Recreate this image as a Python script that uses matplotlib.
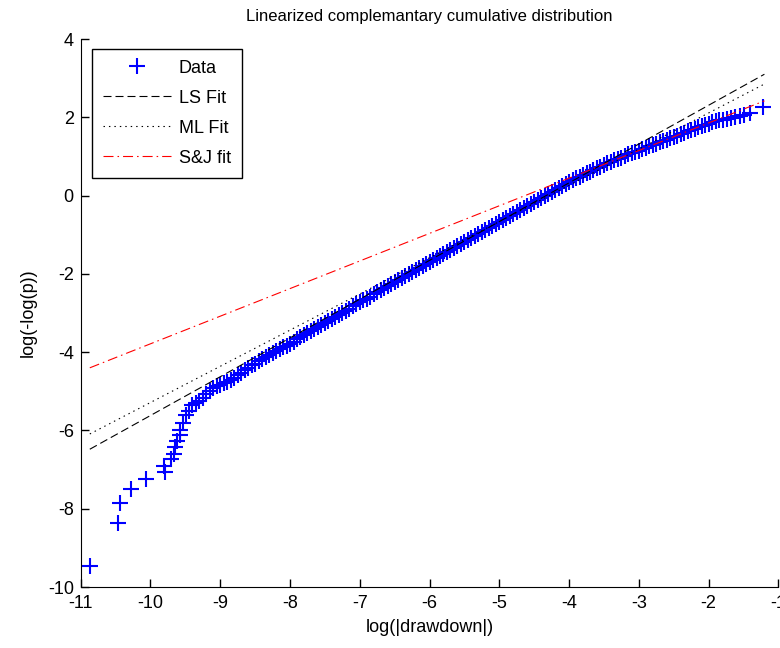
import matplotlib
matplotlib.use("Agg")
import matplotlib.pyplot as plt

plt.rcParams['font.family'] = ['Liberation Sans', 'DejaVu Sans']
plt.rcParams['axes.unicode_minus'] = False

# data points (log|drawdown|, log(-log p))
data_x = [-10.87, -10.46, -10.43, -10.28, -10.06, -9.79, -9.80, -9.71, -9.67, -9.65,
          -9.62, -9.58, -9.57, -9.53, -9.49, -9.45,
          -9.40, -9.35, -9.30, -9.25, -9.20, -9.15, -9.10, -9.05, -9.00, -8.95,
          -8.90, -8.85, -8.80, -8.75, -8.70, -8.65, -8.60, -8.55, -8.50, -8.45,
          -8.40, -8.35, -8.30, -8.25, -8.20, -8.15, -8.10, -8.05, -8.00, -7.95,
          -7.90, -7.85, -7.80, -7.75, -7.70, -7.65, -7.60, -7.55, -7.50, -7.45,
          -7.40, -7.35, -7.30, -7.25, -7.20, -7.15, -7.10, -7.05, -7.00, -6.95,
          -6.90, -6.85, -6.80, -6.75, -6.70, -6.65, -6.60, -6.55, -6.50, -6.45,
          -6.40, -6.35, -6.30, -6.25, -6.20, -6.15, -6.10, -6.05, -6.00, -5.95,
          -5.90, -5.85, -5.80, -5.75, -5.70, -5.65, -5.60, -5.55, -5.50, -5.45,
          -5.40, -5.35, -5.30, -5.25, -5.20, -5.15, -5.10, -5.05, -5.00, -4.95,
          -4.90, -4.85, -4.80, -4.75, -4.70, -4.65, -4.60, -4.55, -4.50, -4.45,
          -4.40, -4.35, -4.30, -4.25, -4.20, -4.15, -4.10, -4.05, -4.00, -3.95,
          -3.90, -3.85, -3.80, -3.75, -3.70, -3.65, -3.60, -3.55, -3.50, -3.45,
          -3.40, -3.35, -3.30, -3.25, -3.20, -3.15, -3.10, -3.05, -3.00, -2.95,
          -2.90, -2.85, -2.80, -2.75, -2.70, -2.65, -2.60, -2.55, -2.50, -2.45,
          -2.40, -2.35, -2.30, -2.25, -2.20, -2.15, -2.10, -2.05, -2.00, -1.95,
          -1.90, -1.85, -1.80, -1.74, -1.68, -1.62, -1.55, -1.49, -1.40, -1.22]
data_y = [-9.47, -8.37, -7.85, -7.50, -7.25, -7.06, -6.91, -6.74, -6.61, -6.43,
          -6.27, -6.12, -5.99, -5.82, -5.61, -5.50,
          -5.35, -5.30, -5.25, -5.16, -5.08, -5.00, -4.92, -4.87, -4.83, -4.79,
          -4.75, -4.70, -4.65, -4.59, -4.53, -4.46, -4.40, -4.34, -4.29, -4.23,
          -4.18, -4.13, -4.08, -4.03, -3.98, -3.93, -3.88, -3.83, -3.78, -3.73,
          -3.67, -3.62, -3.57, -3.52, -3.46, -3.41, -3.36, -3.31, -3.26, -3.20,
          -3.15, -3.10, -3.04, -2.99, -2.94, -2.89, -2.83, -2.78, -2.73, -2.68,
          -2.63, -2.58, -2.52, -2.47, -2.42, -2.37, -2.32, -2.27, -2.22, -2.16,
          -2.11, -2.06, -2.01, -1.96, -1.91, -1.85, -1.80, -1.75, -1.70, -1.65,
          -1.60, -1.55, -1.49, -1.44, -1.39, -1.34, -1.29, -1.24, -1.19, -1.13,
          -1.08, -1.03, -0.98, -0.93, -0.88, -0.82, -0.77, -0.72, -0.67, -0.62,
          -0.57, -0.52, -0.47, -0.41, -0.36, -0.31, -0.26, -0.21, -0.16, -0.11,
          -0.06, 0.00, 0.05, 0.10, 0.15, 0.20, 0.25, 0.30, 0.35, 0.39,
          0.44, 0.48, 0.53, 0.57, 0.61, 0.65, 0.70, 0.74, 0.78, 0.82,
          0.86, 0.90, 0.94, 0.97, 1.01, 1.05, 1.08, 1.12, 1.15, 1.19,
          1.22, 1.26, 1.29, 1.33, 1.36, 1.40, 1.43, 1.46, 1.50, 1.53,
          1.57, 1.60, 1.64, 1.67, 1.70, 1.74, 1.77, 1.81, 1.84, 1.87,
          1.90, 1.92, 1.94, 1.96, 1.99, 2.01, 2.04, 2.06, 2.10, 2.27]

# fitted lines (end points)
fit_x = [-10.87, -1.2]
ls_y = [-6.48, 3.10]
ml_y = [-6.09, 2.85]
sj_y = [-4.40, 2.42]

fig = plt.figure(figsize=(7.8, 6.48), dpi=100)
ax = fig.add_axes([0.1035, 0.0941, 0.8944, 0.8457])

ax.plot(data_x, data_y, '+', color='#0000ff', markersize=11, markeredgewidth=1.5,
        label='Data')
ax.plot(fit_x, ls_y, color='black', linewidth=0.8, dashes=(7.2, 3.6), label='LS Fit')
ax.plot(fit_x, ml_y, color='black', linewidth=0.8, dashes=(1.3, 3.6), label='ML Fit')
ax.plot(fit_x, sj_y, color='red', linewidth=0.8, dashes=(9, 3.6, 1.4, 3.6),
        label='S&J fit')

ax.set_xlim(-11, -1)
ax.set_ylim(-10, 4)
ax.set_xticks(range(-11, 0))
ax.set_yticks(range(-10, 5, 2))
ax.spines['top'].set_visible(False)
ax.spines['right'].set_visible(False)
ax.tick_params(direction='in', length=5.5, width=1, labelsize=13)
ax.tick_params(axis='x', pad=6)
ax.tick_params(axis='y', pad=5)

ax.set_title('Linearized complemantary cumulative distribution', fontsize=12, pad=13)
ax.set_xlabel('log(|drawdown|)', fontsize=13, labelpad=5)
ax.set_ylabel('log(-log(p))', fontsize=13, labelpad=8)

leg = ax.legend(loc='upper left', bbox_to_anchor=(0.016, 0.982), borderaxespad=0,
                fontsize=13, numpoints=1, handlelength=3.8, handletextpad=0.4,
                labelspacing=0.72, fancybox=False, framealpha=1,
                edgecolor='black', borderpad=0.6)
leg.get_frame().set_linewidth(1)

fig.savefig('out.png', dpi=100)
